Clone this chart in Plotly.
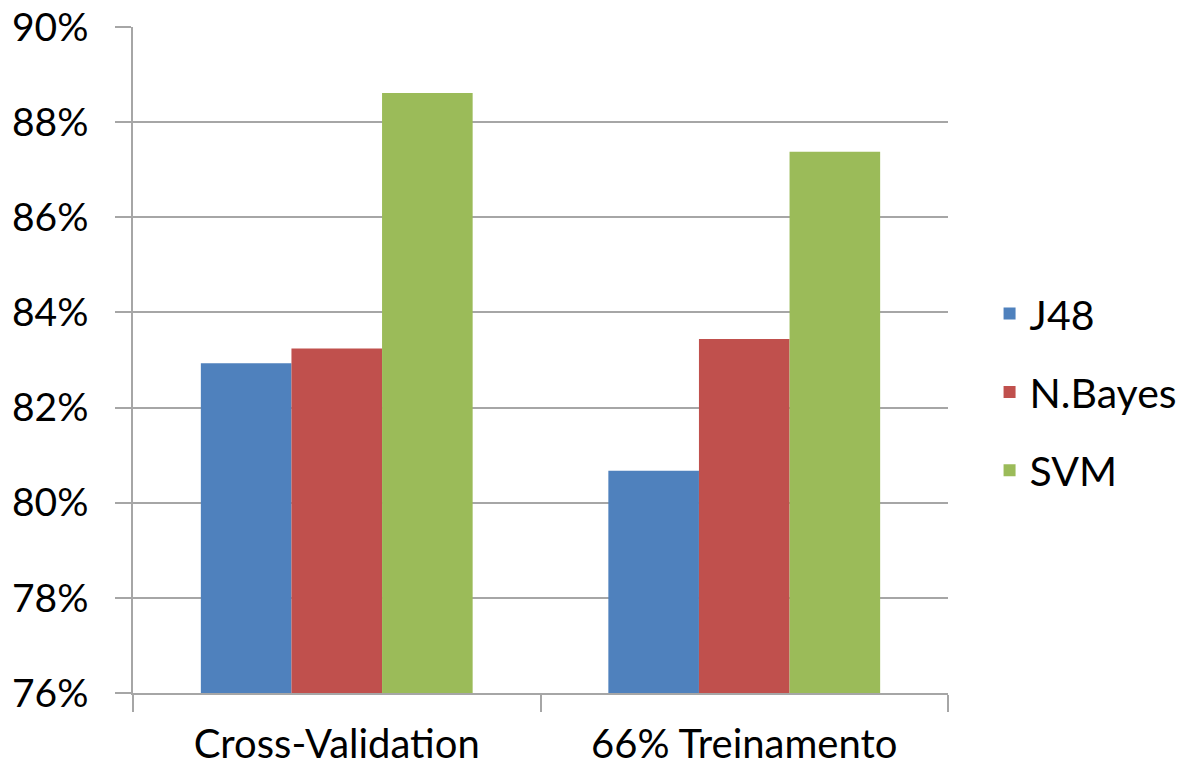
import plotly.graph_objects as go

# Accuracy (%) per evaluation method and classifier
methods = ["Cross-Validation", "66% Treinamento"]
j48 = [82.93, 80.67]
nbayes = [83.24, 83.44]
svm = [88.61, 87.38]

y_ticks = [76, 78, 80, 82, 84, 86, 88, 90]
y_tick_labels = [f"{v}%" for v in y_ticks]

FONT = "Lato"
GRID = "#A6A6A6"

series = [
    ("J48", j48, "#4F81BD"),
    ("N.Bayes", nbayes, "#C0504D"),
    ("SVM", svm, "#9BBB59"),
]

fig = go.Figure()
for name, vals, color in series:
    fig.add_trace(go.Bar(
        x=methods, y=vals, name=name, legendgroup=name,
        marker=dict(color=color, line=dict(width=0)),
    ))

fig.update_layout(
    width=1189, height=769,
    margin=dict(l=133, r=241, t=27, b=76, autoexpand=False),
    paper_bgcolor="white", plot_bgcolor="white",
    barmode="group", bargap=0.333, bargroupgap=0,
    font=dict(family=FONT, size=41, color="black"),
    showlegend=True,
    legend=dict(
        x=1.051, y=0.452, xanchor="left", yanchor="middle",
        font=dict(family=FONT, size=41, color="black"),
        tracegroupgap=22, bgcolor="rgba(0,0,0,0)",
    ),
)
fig.update_xaxes(
    type="category", automargin=False,
    showline=True, linecolor=GRID, linewidth=1.5,
    ticks="outside", tickson="boundaries", ticklen=17, tickcolor=GRID, tickwidth=1.5,
    showgrid=False, tickfont=dict(family=FONT, size=40),
    ticklabelstandoff=15,
)
fig.update_yaxes(
    range=[76, 90], tickvals=y_ticks, ticktext=y_tick_labels, automargin=False,
    showline=True, linecolor=GRID, linewidth=1.5,
    showgrid=True, gridcolor=GRID, gridwidth=1.5,
    ticks="outside", ticklen=16, tickcolor=GRID, tickwidth=1.5,
    tickfont=dict(family=FONT, size=39), zeroline=False,
    ticklabelstandoff=19,
)

fig.write_html("out.html")
